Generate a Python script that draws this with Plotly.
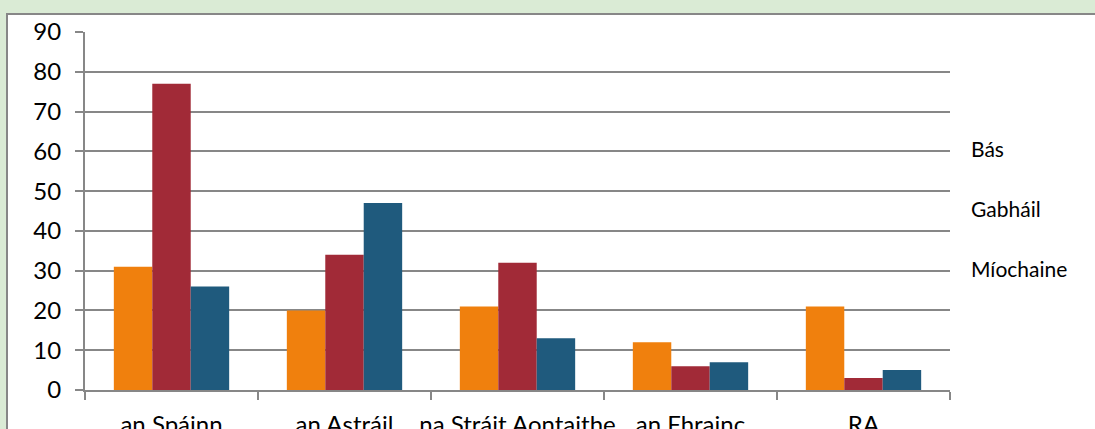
import plotly.graph_objects as go

categories = ["an Spáinn", "an Astráil", "na Stráit Aontaithe", "an Fhrainc", "RA"]
series_names = ["Bás", "Gabháil", "Míochaine"]
bas = [31, 20, 21, 12, 21]
gabhail = [77, 34, 32, 6, 3]
miochaine = [26, 47, 13, 7, 5]
colors = ["#F0800D", "#A12A37", "#1F5A7D"]

W, H = 1095, 429
L, R, T, B = 85, 145, 32, 39
pw, ph = W - L - R, H - T - B

fig = go.Figure()
for name, vals, col in zip(series_names, [bas, gabhail, miochaine], colors):
    fig.add_trace(go.Bar(x=categories, y=vals, name=name, marker_color=col,
                         marker_line_width=0, showlegend=False))

def px2x(p):
    return (p - L) / pw

def px2y(p):
    return (H - B - p) / ph

shapes = [dict(type="rect", xref="paper", yref="paper", layer="below",
               x0=px2x(7), x1=px2x(1110), y0=px2y(450), y1=px2y(14),
               fillcolor="white", line=dict(color="#878787", width=2))]

annotations = []
for name, py in zip(series_names, [148, 208, 268]):
    annotations.append(dict(text=name, xref="paper", yref="paper", x=px2x(969), y=px2y(py),
                            xanchor="left", yanchor="middle", showarrow=False,
                            font=dict(family="Lato", size=21, color="#000000")))

fig.update_layout(
    width=W, height=H,
    margin=dict(l=L, r=R, t=T, b=B, pad=0, autoexpand=False),
    paper_bgcolor="#DAEBD5",
    plot_bgcolor="rgba(0,0,0,0)",
    barmode="group", bargap=1.5 / 4.5, bargroupgap=0,
    font=dict(family="Lato", size=24, color="#000000"),
    shapes=shapes, annotations=annotations,
    xaxis=dict(showline=True, linecolor="#878787", linewidth=2, ticks="outside",
               tickson="boundaries", ticklen=8, tickcolor="#878787", tickwidth=2,
               showgrid=False, tickfont=dict(size=24), tickangle=0, automargin=False,
               ticklabelstandoff=12),
    yaxis=dict(range=[0, 90], dtick=10, showline=True, linecolor="#878787", linewidth=2,
               ticks="outside", ticklen=8, tickcolor="#878787", tickwidth=2,
               showgrid=True, gridcolor="#878787", gridwidth=2, zeroline=False,
               tickfont=dict(size=24), automargin=False, ticklabelstandoff=9),
)

fig.write_html("out.html", config={"displayModeBar": False},
               post_script="document.body.style.margin='0';")
